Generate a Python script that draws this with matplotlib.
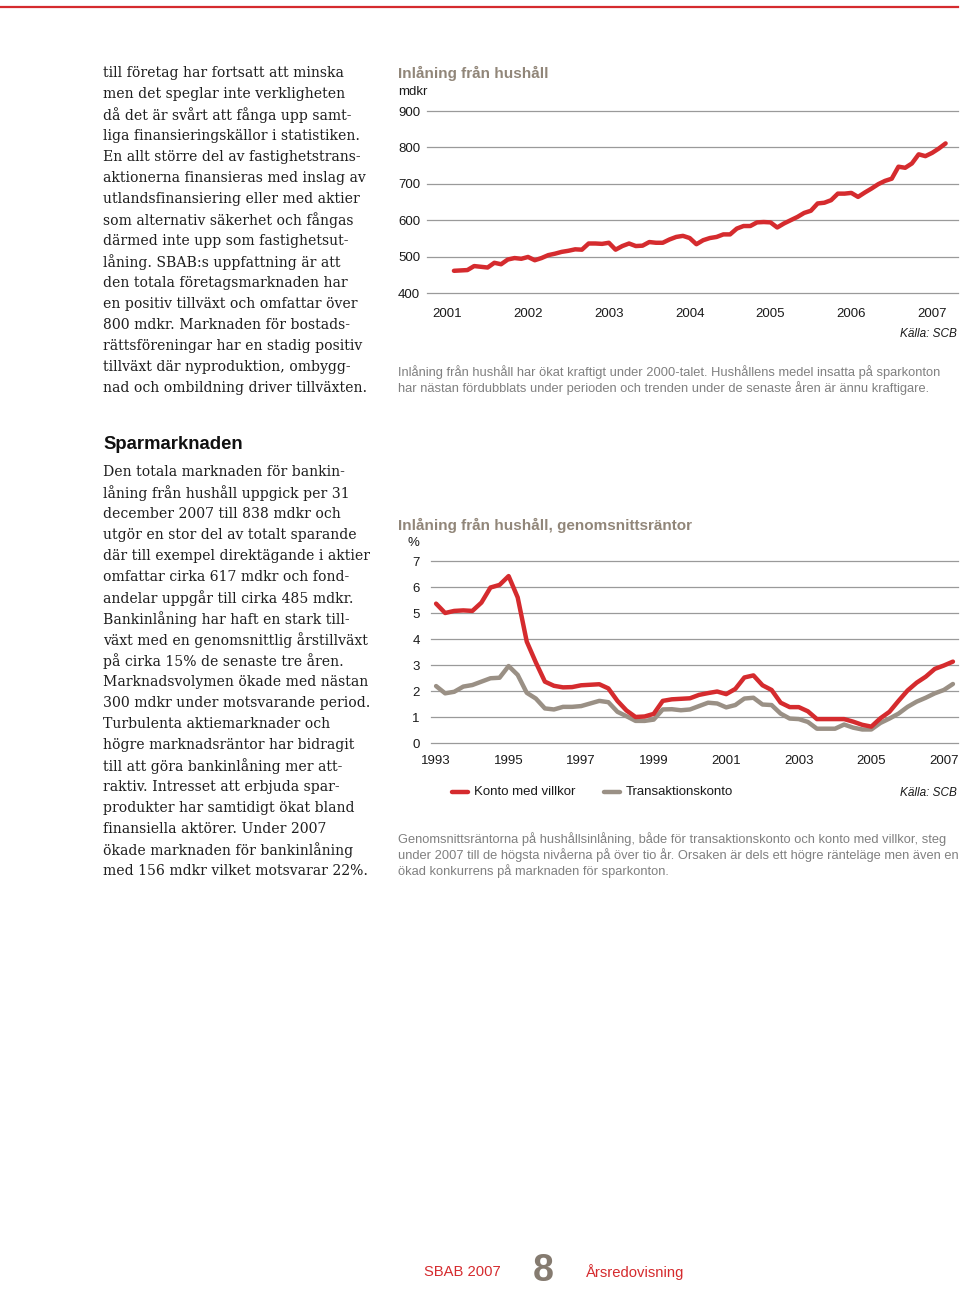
import numpy as np
import pandas as pd
import matplotlib
matplotlib.use('Agg')
import matplotlib.pyplot as plt

# --- data ---
deposits_start = '2001-01'
deposits = [461, 462, 463, 474, 472, 470, 483, 479, 492, 496, 494, 499, 490, 496,
            504, 508, 513, 516, 520, 519, 536, 536, 535, 538, 519, 529, 536, 529,
            530, 540, 538, 538, 547, 554, 557, 551, 534, 545, 551, 554, 561, 561,
            577, 584, 584, 594, 595, 594, 580, 591, 600, 609, 620, 626, 646, 648,
            655, 673, 673, 675, 664, 676, 687, 699, 708, 714, 747, 744, 756, 781,
            776, 785, 797, 811]
deposits_years = [2001, 2002, 2003, 2004, 2005, 2006, 2007]
deposits_yticks = [400, 500, 600, 700, 800, 900]

rates_start = '1993-01'
konto_villkor = [5.36, 5.0, 5.08, 5.1, 5.08, 5.4, 5.98, 6.08, 6.42, 5.6, 3.9, 3.1,
                 2.36, 2.2, 2.14, 2.15, 2.22, 2.24, 2.26, 2.1, 1.62, 1.25, 1.0, 1.02,
                 1.12, 1.62, 1.68, 1.7, 1.72, 1.85, 1.92, 1.98, 1.88, 2.08, 2.52, 2.6,
                 2.22, 2.04, 1.55, 1.38, 1.38, 1.22, 0.92, 0.92, 0.92, 0.92, 0.82, 0.7,
                 0.63, 0.95, 1.2, 1.62, 2.02, 2.32, 2.55, 2.85, 2.98, 3.13]
transaktionskonto = [2.19, 1.91, 1.97, 2.17, 2.23, 2.36, 2.49, 2.51, 2.96, 2.62, 1.93, 1.71,
                     1.33, 1.29, 1.39, 1.39, 1.42, 1.52, 1.62, 1.57, 1.2, 1.03, 0.85, 0.85,
                     0.9, 1.29, 1.3, 1.26, 1.29, 1.42, 1.55, 1.52, 1.37, 1.46, 1.71, 1.74,
                     1.48, 1.46, 1.13, 0.94, 0.92, 0.81, 0.55, 0.55, 0.55, 0.71, 0.59, 0.52,
                     0.52, 0.77, 0.94, 1.13, 1.39, 1.59, 1.74, 1.91, 2.04, 2.27]
rates_years = [1993, 1995, 1997, 1999, 2001, 2003, 2005, 2007]
rates_yticks = [0, 1, 2, 3, 4, 5, 6, 7]

text_block1 = [
    "till företag har fortsatt att minska",
    "men det speglar inte verkligheten",
    "då det är svårt att fånga upp samt-",
    "liga finansieringskällor i statistiken.",
    "En allt större del av fastighetstrans-",
    "aktionerna finansieras med inslag av",
    "utlandsfinansiering eller med aktier",
    "som alternativ säkerhet och fångas",
    "därmed inte upp som fastighetsut-",
    "låning. SBAB:s uppfattning är att",
    "den totala företagsmarknaden har",
    "en positiv tillväxt och omfattar över",
    "800 mdkr. Marknaden för bostads-",
    "rättsföreningar har en stadig positiv",
    "tillväxt där nyproduktion, ombygg-",
    "nad och ombildning driver tillväxten.",
]
text_block2 = [
    "Den totala marknaden för bankin-",
    "låning från hushåll uppgick per 31",
    "december 2007 till 838 mdkr och",
    "utgör en stor del av totalt sparande",
    "där till exempel direktägande i aktier",
    "omfattar cirka 617 mdkr och fond-",
    "andelar uppgår till cirka 485 mdkr.",
    "Bankinlåning har haft en stark till-",
    "växt med en genomsnittlig årstillväxt",
    "på cirka 15% de senaste tre åren.",
    "Marknadsvolymen ökade med nästan",
    "300 mdkr under motsvarande period.",
    "Turbulenta aktiemarknader och",
    "högre marknadsräntor har bidragit",
    "till att göra bankinlåning mer att-",
    "raktiv. Intresset att erbjuda spar-",
    "produkter har samtidigt ökat bland",
    "finansiella aktörer. Under 2007",
    "ökade marknaden för bankinlåning",
    "med 156 mdkr vilket motsvarar 22%.",
]
caption1 = ["Inlåning från hushåll har ökat kraftigt under 2000-talet. Hushållens medel insatta på sparkonton",
            "har nästan fördubblats under perioden och trenden under de senaste åren är ännu kraftigare."]
caption2 = ["Genomsnittsräntorna på hushållsinlåning, både för transaktionskonto och konto med villkor, steg",
            "under 2007 till de högsta nivåerna på över tio år. Orsaken är dels ett högre ränteläge men även en",
            "ökad konkurrens på marknaden för sparkonton."]

RED = '#d52b2e'
GREY_LINE = '#9a9085'
TITLE_GREY = '#918679'
CAP_GREY = '#808080'
TXT = '#1e1e1e'

W, H = 960, 1290
fig = plt.figure(figsize=(W / 100, H / 100), dpi=100)
fig.patch.set_facecolor('white')


def px(x, y):
    return x / W, 1 - y / H


def put(x, y, s, **kw):
    kw.setdefault('va', 'center')
    fig.text(*px(x, y), s, **kw)


# top rule
fig.add_artist(plt.Line2D([0, 958 / W], [1 - 7 / H, 1 - 7 / H], color=RED, lw=1.6))

# left column text
serif = 'DejaVu Serif'
for i, line in enumerate(text_block1):
    put(103, 73 + 21 * i, line, family=serif, fontsize=10.05, color=TXT)
put(103, 445, "Sparmarknaden", family='Liberation Sans', fontweight='bold', fontsize=13.3, color='#111111')
for i, line in enumerate(text_block2):
    put(103, 472 + 21 * i, line, family=serif, fontsize=10.05, color=TXT)


def style_axes(ax):
    for s in ax.spines.values():
        s.set_visible(False)
    ax.grid(axis='y', color='#9a9a9a', lw=0.9)
    for gl in ax.get_ygridlines():
        gl.set_clip_on(False)
    ax.set_axisbelow(True)
    ax.tick_params(length=0, labelsize=9.5, colors='#1a1a1a')
    for lab in ax.get_xticklabels() + ax.get_yticklabels():
        lab.set_family('Liberation Sans')


# chart 1
ax1 = fig.add_axes([427 / W, 1 - 293 / H, 531 / W, 182 / H])
d1 = pd.date_range(deposits_start, periods=len(deposits), freq='MS')
x1 = d1.year + d1.month / 12.0
ax1.plot(x1, deposits, color=RED, lw=3.2, solid_capstyle='round', solid_joinstyle='round')
ax1.set_xlim(2000.75, 2007.32)
ax1.set_ylim(400, 900)
ax1.set_yticks(deposits_yticks)
ax1.set_xticks(deposits_years)
style_axes(ax1)
ax1.tick_params(axis='y', pad=5)
ax1.tick_params(axis='x', pad=11)
put(398, 73, "Inlåning från hushåll", family='Liberation Sans', fontweight='bold', fontsize=11, color=TITLE_GREY)
put(398, 92, "mdkr", family='Liberation Sans', fontsize=9.5, color='#1a1a1a')
put(957, 334, "Källa: SCB", family='Liberation Sans', style='italic', fontsize=8.5, color='#1a1a1a', ha='right')
for i, line in enumerate(caption1):
    put(398, 372 + 16.5 * i, line, family='Liberation Sans', fontsize=9.25, color=CAP_GREY)

# chart 2
ax2 = fig.add_axes([431 / W, 1 - 743 / H, 527 / W, 182 / H])
d2 = pd.date_range(rates_start, periods=len(konto_villkor), freq='QS')
x2 = d2.year + (d2.month - 1) / 12.0
ax2.plot(x2, transaktionskonto, color=GREY_LINE, lw=3.2, solid_capstyle='round', solid_joinstyle='round')
ax2.plot(x2, konto_villkor, color=RED, lw=3.2, solid_capstyle='round', solid_joinstyle='round')
ax2.set_xlim(1992.86, 2007.39)
ax2.set_ylim(0, 7)
ax2.set_yticks(rates_yticks)
ax2.set_xticks(rates_years)
style_axes(ax2)
ax2.tick_params(axis='y', pad=8)
ax2.tick_params(axis='x', pad=9)
put(398, 525, "Inlåning från hushåll, genomsnittsräntor", family='Liberation Sans', fontweight='bold', fontsize=11, color=TITLE_GREY)
put(407, 543, "%", family='Liberation Sans', fontsize=9.5, color='#1a1a1a')

# legend
for x0, col, lab in [(452, RED, "Konto med villkor"), (604, GREY_LINE, "Transaktionskonto")]:
    fig.add_artist(plt.Line2D([x0 / W, (x0 + 16) / W], [1 - 792 / H] * 2, color=col, lw=3.2,
                              solid_capstyle='round'))
    put(x0 + 22, 792, lab, family='Liberation Sans', fontsize=9.5, color='#1a1a1a')
put(957, 793, "Källa: SCB", family='Liberation Sans', style='italic', fontsize=8.5, color='#1a1a1a', ha='right')
for i, line in enumerate(caption2):
    put(398, 839 + 16 * i, line, family='Liberation Sans', fontsize=9.25, color=CAP_GREY)

# footer
put(424, 1272, "SBAB 2007", family='Liberation Sans', fontsize=10.6, color=RED)
put(543, 1271, "8", family='Liberation Sans', fontweight='bold', fontsize=27, color='#857b70', ha='center')
put(586, 1272, "Årsredovisning", family='Liberation Sans', fontsize=10.7, color=RED)

fig.savefig('out.png', dpi=100, facecolor='white')
